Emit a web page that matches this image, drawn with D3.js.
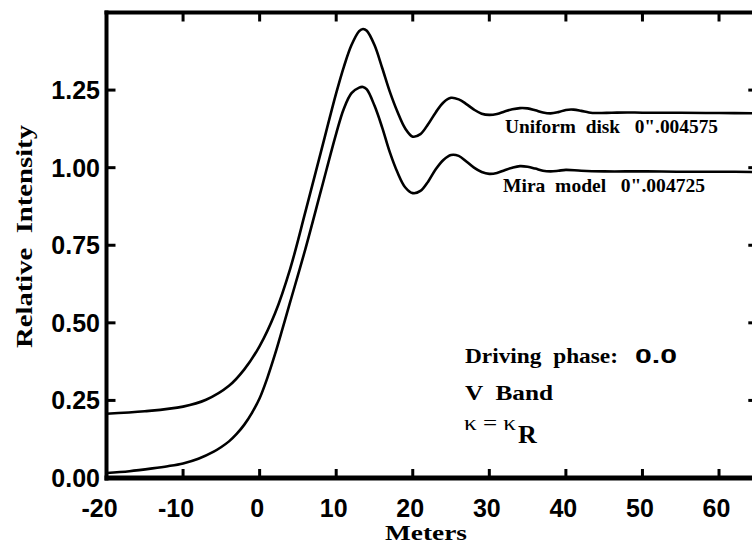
<!DOCTYPE html>
<html>
<head>
<meta charset="utf-8">
<script src="https://cdn.jsdelivr.net/npm/d3@7"></script>
<style>
  html, body { margin: 0; padding: 0; background: #fff; }
  svg { display: block; }
  text { white-space: pre; }
  .serif { font-family: "Liberation Serif", "Times New Roman", serif; font-weight: bold; }
  .sans { font-family: "Liberation Sans", Arial, sans-serif; font-weight: bold; }
</style>
</head>
<body>
<svg id="chart" width="752" height="546"></svg>
<script>
// ---- Data ----
const xTicks = [-20, -10, 0, 10, 20, 30, 40, 50, 60];
const yTicks = [0.00, 0.25, 0.50, 0.75, 1.00, 1.25];
const yTickLabels = ["0.00", "0.25", "0.50", "0.75", "1.00", "1.25"];

const uniformX = [-20, -15, -10, -7, -4, -2, 0, 2, 4, 6, 8, 10, 11, 12, 13, 13.5, 14, 15, 16, 17, 18, 19, 20, 21, 22, 23, 24, 25, 26, 27, 28, 29, 30, 31, 32, 33, 34, 35, 36, 37, 38, 39, 40, 41, 42, 43, 44, 46, 48, 50, 55, 60, 65];
const uniformY = [0.207, 0.215, 0.230, 0.252, 0.297, 0.350, 0.425, 0.530, 0.675, 0.860, 1.050, 1.240, 1.325, 1.395, 1.440, 1.447, 1.441, 1.395, 1.322, 1.245, 1.180, 1.127, 1.100, 1.108, 1.140, 1.178, 1.210, 1.225, 1.220, 1.205, 1.187, 1.174, 1.170, 1.173, 1.181, 1.188, 1.192, 1.191, 1.185, 1.178, 1.175, 1.179, 1.186, 1.187, 1.183, 1.178, 1.176, 1.177, 1.178, 1.177, 1.177, 1.176, 1.175];

const miraX = [-20, -17, -14, -12, -10, -8, -6, -5, -4, -3, -2, -1, 0, 1, 2, 3, 4, 6, 8, 10, 11, 12, 13, 13.5, 14, 15, 16, 17, 18, 19, 20, 21, 22, 23, 24, 25, 26, 27, 28, 29, 30, 31, 32, 33, 34, 35, 36, 37, 38, 39, 40, 42, 45, 50, 55, 60, 65];
const miraY = [0.016, 0.022, 0.031, 0.038, 0.047, 0.062, 0.085, 0.100, 0.118, 0.142, 0.172, 0.210, 0.257, 0.322, 0.398, 0.482, 0.568, 0.740, 0.925, 1.110, 1.190, 1.240, 1.258, 1.260, 1.252, 1.200, 1.130, 1.050, 0.985, 0.937, 0.918, 0.925, 0.955, 0.995, 1.025, 1.041, 1.038, 1.020, 1.000, 0.986, 0.980, 0.983, 0.992, 1.000, 1.005, 1.003, 0.997, 0.990, 0.988, 0.990, 0.993, 0.990, 0.988, 0.988, 0.987, 0.987, 0.986];

const seriesLabels = ["Uniform  disk   0\".004575", "Mira  model   0\".004725"];

// ---- Scales ----
const svg = d3.select("#chart");
const x = d3.scaleLinear().domain([-20, 65]).range([106.5, 757.3]);
const y = d3.scaleLinear().domain([0, 1.5]).range([478, 12.5]);

// ---- Curves ----
const line = d3.line()
  .x(d => x(d[0]))
  .y(d => y(d[1]))
  .curve(d3.curveCatmullRom.alpha(0.5));

const uniform = uniformX.map((v, i) => [v, uniformY[i]]);
const mira = miraX.map((v, i) => [v, miraY[i]]);

[uniform, mira].forEach(s => {
  svg.append("path")
    .datum(s)
    .attr("d", line)
    .attr("fill", "none")
    .attr("stroke", "#000")
    .attr("stroke-width", 2.6)
    .attr("stroke-linejoin", "round");
});

// ---- Frame & ticks ----
const x0 = x(-20), x1 = x(65), yb = y(0), yt = y(1.5);
const tickLen = 9;
xTicks.forEach(t => {
  svg.append("line").attr("x1", x(t)).attr("x2", x(t))
    .attr("y1", yb).attr("y2", yb - tickLen)
    .attr("stroke", "#000").attr("stroke-width", 3);
  svg.append("line").attr("x1", x(t)).attr("x2", x(t))
    .attr("y1", yt).attr("y2", yt + tickLen)
    .attr("stroke", "#000").attr("stroke-width", 3);
});
yTicks.forEach(t => {
  svg.append("line").attr("x1", x0).attr("x2", x0 + tickLen)
    .attr("y1", y(t)).attr("y2", y(t))
    .attr("stroke", "#000").attr("stroke-width", 3);
  svg.append("line").attr("x1", x1).attr("x2", x1 - tickLen)
    .attr("y1", y(t)).attr("y2", y(t))
    .attr("stroke", "#000").attr("stroke-width", 3);
});
svg.append("line").attr("x1", x0).attr("x2", x0).attr("y1", yt - 2).attr("y2", yb + 2.5)
  .attr("stroke", "#000").attr("stroke-width", 4);
svg.append("line").attr("x1", x0 - 2).attr("x2", x1).attr("y1", yb).attr("y2", yb)
  .attr("stroke", "#000").attr("stroke-width", 5);
svg.append("line").attr("x1", x0 - 2).attr("x2", x1).attr("y1", yt).attr("y2", yt)
  .attr("stroke", "#000").attr("stroke-width", 4);
svg.append("line").attr("x1", x1).attr("x2", x1).attr("y1", yt).attr("y2", yb)
  .attr("stroke", "#000").attr("stroke-width", 4);

// ---- Tick labels ----
xTicks.forEach(t => {
  svg.append("text").attr("class", "sans")
    .attr("x", x(t) - (t < 0 ? 7 : 2.5))
    .attr("y", 517)
    .attr("text-anchor", "middle")
    .attr("font-size", 25)
    .text(t);
});
yTicks.forEach((t, i) => {
  svg.append("text").attr("class", "sans")
    .attr("x", 100)
    .attr("y", y(t) + 9)
    .attr("text-anchor", "end")
    .attr("font-size", 25)
    .text(yTickLabels[i]);
});

// ---- Axis titles ----
svg.append("text").attr("class", "serif")
  .attr("x", 385).attr("y", 540)
  .attr("font-size", 21)
  .attr("textLength", 82).attr("lengthAdjust", "spacingAndGlyphs")
  .text("Meters");

svg.append("text").attr("class", "serif")
  .attr("transform", "translate(32,348) rotate(-90)")
  .attr("x", 0).attr("y", 0)
  .attr("font-size", 24)
  .attr("textLength", 223).attr("lengthAdjust", "spacingAndGlyphs")
  .text("Relative  Intensity");

// ---- Series labels ----
svg.append("text").attr("class", "serif")
  .attr("x", 505).attr("y", 132.5)
  .attr("font-size", 19)
  .attr("textLength", 213).attr("lengthAdjust", "spacingAndGlyphs")
  .text(seriesLabels[0]);
svg.append("text").attr("class", "serif")
  .attr("x", 503).attr("y", 192)
  .attr("font-size", 19)
  .attr("textLength", 202).attr("lengthAdjust", "spacingAndGlyphs")
  .text(seriesLabels[1]);

// ---- Annotation block ----
svg.append("text").attr("class", "serif")
  .attr("x", 465).attr("y", 363)
  .attr("font-size", 22)
  .attr("textLength", 153).attr("lengthAdjust", "spacingAndGlyphs")
  .text("Driving  phase:");
svg.append("text").attr("class", "sans")
  .attr("x", 635).attr("y", 363)
  .attr("font-size", 21)
  .attr("textLength", 42).attr("lengthAdjust", "spacingAndGlyphs")
  .text("0.0");
svg.append("text").attr("class", "serif")
  .attr("x", 465).attr("y", 400)
  .attr("font-size", 22)
  .attr("textLength", 88).attr("lengthAdjust", "spacingAndGlyphs")
  .text("V  Band");
svg.append("text")
  .attr("x", 464).attr("y", 430)
  .attr("font-family", "'Liberation Serif', 'Times New Roman', serif")
  .attr("font-size", 20)
  .attr("textLength", 52).attr("lengthAdjust", "spacingAndGlyphs")
  .text("κ = κ");
svg.append("text").attr("class", "serif")
  .attr("x", 518).attr("y", 443)
  .attr("font-size", 26)
  .text("R");
</script>
</body>
</html>
